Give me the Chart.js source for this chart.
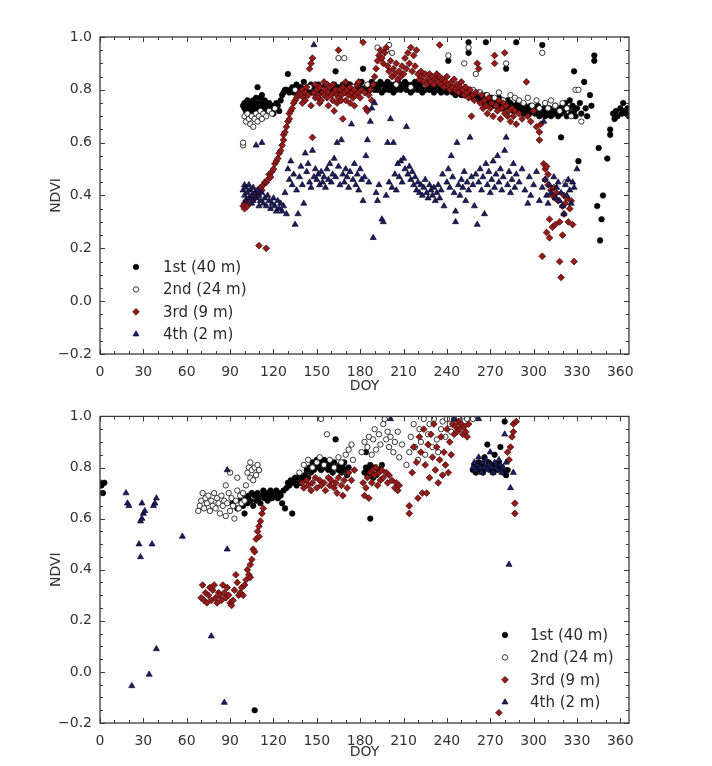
<!DOCTYPE html>
<html><head><meta charset="utf-8">
<script src="https://cdn.jsdelivr.net/npm/chart.js@4.4.1/dist/chart.umd.min.js"></script>
<style>
html,body{margin:0;padding:0;background:#fff;}
#wrap{position:relative;width:712px;height:766px;overflow:hidden;background:#fff;}
canvas{position:absolute;left:0;}
#c1{top:0;} #c2{top:400px;}
</style></head><body>
<div id="wrap"><canvas id="c1" width="712" height="400"></canvas><canvas id="c2" width="712" height="366"></canvas></div>
<script>
// ---------- DATA (DOY, NDVI) ----------
const seriesLabels = ['1st (40 m)', '2nd (24 m)', '3rd (9 m)', '4th (2 m)'];
const xTickValues = [0,30,60,90,120,150,180,210,240,270,300,330,360];
const yTickValues = [-0.2,0.0,0.2,0.4,0.6,0.8,1.0];

const topFirst = [[99,0.74],[100,0.73],[100,0.75],[101,0.72],[101,0.74],[102,0.76],[102,0.73],[103,0.74],[103,0.72],[104,0.75],[104,0.73],[105,0.74],[105,0.71],[106,0.76],[106,0.73],[107,0.75],[107,0.72],[108,0.74],[108,0.77],[109,0.81],[109,0.73],[110,0.75],[110,0.72],[111,0.74],[111,0.77],[112,0.78],[112,0.73],[113,0.75],[113,0.71],[114,0.74],[114,0.76],[115,0.73],[115,0.75],[116,0.72],[116,0.74],[117,0.73],[117,0.75],[118,0.74],[118,0.72],[119,0.73],[120,0.74],[120,0.71],[121,0.73],[122,0.75],[123,0.74],[124,0.72],[125,0.76],[126,0.78],[127,0.79],[128,0.80],[129,0.80],[130,0.86],
[131,0.79],[132,0.80],[133,0.81],[134,0.79],[135,0.80],[136,0.82],[137,0.80],[138,0.79],[139,0.81],[140,0.80],[141,0.83],[142,0.80],[143,0.79],[144,0.81],[145,0.80],[146,0.82],[147,0.79],[148,0.80],[149,0.81],[150,0.80],[151,0.82],[152,0.79],[153,0.80],[154,0.81],[155,0.79],[156,0.80],[157,0.82],[158,0.80],[159,0.81],[160,0.79],[161,0.80],[162,0.82],[163,0.87],[164,0.80],[165,0.81],[166,0.79],[167,0.80],[168,0.82],[169,0.80],[170,0.81],[171,0.79],[172,0.80],[173,0.82],[174,0.80],[175,0.79],[176,0.81],[177,0.80],[178,0.82],[179,0.80],[180,0.81],[181,0.83],[182,0.88],[183,0.80],[184,0.81],[185,0.79],[186,0.82],[187,0.80],[188,0.83],[189,0.81],[190,0.80],
[191,0.82],[192,0.80],[193,0.81],[194,0.83],[195,0.79],[196,0.82],[197,0.80],[198,0.81],[199,0.83],[200,0.80],[201,0.82],[202,0.81],[203,0.79],[204,0.82],[205,0.80],[206,0.83],[207,0.81],[208,0.80],[209,0.82],[210,0.81],[211,0.83],[212,0.80],[213,0.82],[214,0.81],[215,0.79],[216,0.82],[217,0.80],[218,0.83],[219,0.81],[220,0.80],[221,0.82],[222,0.81],[223,0.79],[224,0.82],[225,0.80],[226,0.81],[227,0.83],[228,0.80],[229,0.82],[230,0.81],[231,0.79],[232,0.81],[233,0.80],[234,0.82],[235,0.80],[236,0.79],[237,0.81],[238,0.80],[239,0.82],[240,0.79],[241,0.91],[242,0.80],[243,0.81],[244,0.79],[245,0.80],[246,0.78],[247,0.81],[248,0.79],[249,0.80],[250,0.78],[251,0.79],[252,0.81],[253,0.78],[254,0.80],[255,0.98],[255,0.94],[256,0.78],[257,0.79],[258,0.77],[259,0.79],[260,0.78],
[261,0.77],[262,0.79],[263,0.76],[264,0.78],[265,0.77],[266,0.75],[267,0.98],[267,0.78],[268,0.76],[269,0.77],[270,0.75],[271,0.77],[272,0.76],[273,0.74],[274,0.76],[275,0.75],[276,0.77],[277,0.74],[278,0.76],[279,0.73],[280,0.75],[281,0.88],[281,0.74],[282,0.76],[283,0.73],[284,0.75],[285,0.74],[286,0.72],[287,0.74],[288,0.98],[288,0.73],[289,0.75],[290,0.72],[291,0.74],[292,0.73],[293,0.71],[294,0.74],[295,0.72],[296,0.73],[297,0.71],[298,0.74],[299,0.72],[300,0.73],[301,0.71],[302,0.72],[303,0.74],[304,0.70],[305,0.72],[306,0.97],[306,0.71],[307,0.73],[308,0.70],[309,0.72],[310,0.71],[311,0.73],[312,0.70],[313,0.72],[314,0.71],[315,0.74],[316,0.72],[317,0.70],[318,0.73],[319,0.62],[319,0.71],[320,0.74],[321,0.72],[322,0.75],[323,0.70],[324,0.73],[325,0.76],[326,0.71],[327,0.74],[328,0.87],[328,0.72],[329,0.70],[330,0.73],[331,0.53],[332,0.75],[333,0.71],[335,0.83],[336,0.73],[337,0.70],[339,0.78],[340,0.74],[342,0.93],[342,0.91],[344,0.36],[345,0.58],[346,0.23],[347,0.31],[348,0.40],[351,0.54],[353,0.65],[353,0.63],[355,0.71],[356,0.69],[357,0.72],[358,0.70],[360,0.73],[361,0.71],[362,0.75],[363,0.72],[364,0.71],[365,0.73],[366,0.70]];

const topSecond = [[99,0.59],[99,0.60],[100,0.70],[101,0.68],[102,0.71],[103,0.69],[104,0.67],[105,0.70],[106,0.66],[107,0.69],[108,0.71],[109,0.68],[110,0.70],[111,0.72],[112,0.69],[113,0.71],[115,0.70],[117,0.72],[119,0.71],[121,0.73],
[135,0.80],[145,0.81],[155,0.80],[165,0.92],[169,0.92],[175,0.81],[185,0.82],[192,0.96],[195,0.93],[198,0.95],[200,0.97],[202,0.94],[205,0.82],[215,0.81],[225,0.82],[231,0.84],[236,0.82],[241,0.93],[245,0.81],[250,0.82],[252,0.90],[255,0.96],[258,0.80],[260,0.86],[263,0.79],[268,0.78],[273,0.77],[276,0.79],[279,0.76],[281,0.90],[284,0.78],[287,0.77],[290,0.76],[293,0.75],[296,0.77],[299,0.74],[302,0.76],[304,0.73],[306,0.94],[308,0.75],[310,0.73],[312,0.76],[315,0.74],[318,0.72],[320,0.75],[322,0.45],[323,0.73],[326,0.70],[329,0.80],[331,0.80],[333,0.68]];

const topThird = [[99,0.36],[100,0.37],[100,0.35],[101,0.38],[102,0.36],[103,0.38],[104,0.39],[105,0.38],[106,0.40],[107,0.39],[108,0.41],[109,0.40],[110,0.21],[110,0.42],[111,0.43],[112,0.42],[113,0.44],[114,0.45],[115,0.20],[115,0.45],[116,0.46],[117,0.48],[118,0.47],[119,0.49],[120,0.50],[121,0.52],[122,0.53],[123,0.54],[124,0.56],[125,0.57],[126,0.59],[127,0.61],[127,0.63],[128,0.64],[129,0.66],[130,0.68],[131,0.69],[131,0.71],[132,0.72],[133,0.73],[134,0.75],[135,0.76],[136,0.77],[137,0.78],[138,0.79],
[139,0.78],[140,0.80],[140,0.75],[141,0.77],[142,0.79],[142,0.76],[143,0.81],[144,0.78],[145,0.88],[146,0.90],[146,0.74],[147,0.92],[147,0.62],[148,0.79],[149,0.77],[149,0.82],[150,0.80],[151,0.78],[151,0.77],[152,0.81],[152,0.75],[153,0.76],[154,0.79],[155,0.78],[155,0.83],[156,0.80],[157,0.77],[157,0.82],[158,0.79],[158,0.74],[159,0.81],[160,0.78],[161,0.76],[161,0.82],[162,0.72],[162,0.79],[163,0.80],[164,0.78],[164,0.75],[165,0.95],[165,0.77],[166,0.80],[167,0.78],[167,0.76],[168,0.69],[168,0.81],[169,0.79],[170,0.76],[170,0.83],[171,0.80],[172,0.78],[173,0.81],[173,0.75],[174,0.79],[175,0.77],[176,0.80],[176,0.74],[177,0.78],[178,0.82],[179,0.79],[179,0.83],[180,0.77],[181,0.80],[182,0.98],[183,0.79],[184,0.73],[185,0.72],[186,0.78],[187,0.80],[188,0.76],[189,0.82],[190,0.85],
[191,0.88],[192,0.91],[193,0.93],[194,0.95],[195,0.92],[196,0.90],[197,0.94],[198,0.96],[199,0.89],[200,0.87],[201,0.91],[202,0.85],[203,0.88],[204,0.86],[205,0.90],[206,0.84],[207,0.87],[208,0.85],[209,0.89],[210,0.86],[211,0.92],[212,0.88],[213,0.94],[214,0.90],[215,0.96],[216,0.87],[217,0.93],[218,0.89],[219,0.95],[220,0.86],[221,0.84],[222,0.87],
[223,0.85],[224,0.83],[225,0.86],[226,0.82],[227,0.84],[228,0.86],[229,0.83],[230,0.85],[231,0.82],[232,0.84],[233,0.86],[234,0.83],[235,0.97],[235,0.85],[236,0.82],[237,0.84],[238,0.81],[239,0.83],[240,0.85],[241,0.82],[242,0.80],[243,0.83],[244,0.81],[245,0.84],[246,0.80],[247,0.82],[248,0.79],[249,0.81],[250,0.83],[251,0.80],[252,0.78],[253,0.81],[254,0.79],[255,0.77],[256,0.80],[257,0.70],[258,0.78],[259,0.76],[260,0.79],
[261,0.90],[262,0.88],[263,0.75],[264,0.78],[265,0.73],[266,0.76],[267,0.74],[268,0.71],[269,0.77],[270,0.73],[271,0.75],[272,0.70],[273,0.93],[273,0.90],[274,0.74],[275,0.72],[276,0.76],[277,0.69],[278,0.73],[279,0.75],[280,0.94],[280,0.71],[281,0.74],[282,0.70],[283,0.72],[284,0.68],[285,0.73],[286,0.70],[287,0.72],[288,0.67],[290,0.71],[292,0.69],[295,0.83],[296,0.70],[298,0.68],[300,0.72],[302,0.66],[304,0.64],[304,0.61],[305,0.67],
[306,0.17],[307,0.52],[308,0.50],[308,0.46],[309,0.51],[309,0.26],[310,0.48],[310,0.44],[311,0.31],[311,0.24],[312,0.42],[313,0.40],[313,0.28],[314,0.43],[315,0.29],[315,0.39],[316,0.41],[317,0.38],[318,0.30],[318,0.15],[319,0.09],[320,0.25],[320,0.36],[321,0.40],[321,0.33],[322,0.37],[323,0.39],[324,0.30],[325,0.35],[326,0.38],[327,0.29],[328,0.15]];

const topFourth = [[99,0.42],[100,0.40],[100,0.44],[101,0.38],[101,0.43],[102,0.41],[103,0.39],[103,0.44],[104,0.42],[105,0.37],[105,0.40],[106,0.43],[106,0.38],[107,0.41],[108,0.59],[108,0.39],[109,0.42],[110,0.36],[110,0.40],[111,0.38],[112,0.60],[112,0.41],[113,0.37],[114,0.39],[115,0.36],[116,0.40],[117,0.38],[118,0.35],[119,0.37],[120,0.39],[121,0.36],[122,0.34],[123,0.38],[124,0.35],[125,0.37],[126,0.34],[127,0.36],[128,0.41],[129,0.33],[130,0.50],[131,0.46],[132,0.53],[133,0.44],[134,0.48],[135,0.29],[136,0.42],[137,0.33],[138,0.47],[139,0.51],[140,0.44],[141,0.37],[142,0.56],[143,0.49],[144,0.52],[145,0.45],[146,0.43],[147,0.57],[148,0.97],[148,0.47],[149,0.50],[150,0.46],[151,0.48],[152,0.44],[153,0.49],[154,0.45],[155,0.47],[156,0.43],[157,0.50],[158,0.46],[159,0.52],[160,0.45],[161,0.48],[162,0.54],[163,0.47],[164,0.60],[165,0.51],[166,0.44],[167,0.61],[168,0.48],[169,0.45],[170,0.50],[171,0.47],[172,0.43],[173,0.49],[174,0.67],[175,0.46],[176,0.52],[177,0.44],[178,0.48],[179,0.42],[180,0.50],[181,0.46],[182,0.38],[183,0.47],[184,0.55],[185,0.61],[186,0.45],[187,0.68],[188,0.73],[189,0.24],[190,0.75],[191,0.41],[192,0.38],[193,0.44],[195,0.31],[196,0.30],[198,0.40],[199,0.60],[200,0.45],[201,0.69],[202,0.43],[203,0.60],[204,0.48],[205,0.42],[206,0.52],[207,0.47],[208,0.53],[209,0.45],[210,0.54],[211,0.50],[212,0.66],[213,0.48],[214,0.51],[215,0.46],[216,0.49],[217,0.44],[218,0.47],[219,0.42],[220,0.45],[221,0.41],[222,0.44],[223,0.40],[224,0.43],[225,0.46],[226,0.41],[227,0.39],[228,0.44],[229,0.42],[230,0.40],[231,0.43],[232,0.38],[233,0.41],[234,0.44],[235,0.39],[236,0.42],[237,0.48],[238,0.36],[240,0.45],[241,0.50],[242,0.43],[243,0.55],[244,0.47],[245,0.41],[246,0.34],[246,0.30],[247,0.60],[248,0.44],[249,0.40],[250,0.46],[251,0.43],[252,0.49],[253,0.38],[254,0.45],[255,0.42],[256,0.62],[257,0.47],[258,0.44],[259,0.36],[260,0.48],[261,0.29],[262,0.45],[263,0.50],[264,0.42],[265,0.47],[266,0.33],[267,0.52],[268,0.44],[269,0.49],[270,0.41],[271,0.46],[272,0.53],[273,0.43],[274,0.48],[275,0.55],[276,0.45],[277,0.50],[278,0.42],[279,0.47],[280,0.57],[281,0.62],[282,0.44],[283,0.49],[284,0.41],[285,0.46],[286,0.52],[287,0.43],[288,0.48],[290,0.45],[292,0.50],[294,0.42],[296,0.37],[297,0.47],[298,0.40],[300,0.44],[302,0.49],[304,0.38],[306,0.43],[307,0.68],[308,0.46],[309,0.40],[310,0.37],[311,0.44],[312,0.41],[314,0.47],[315,0.39],[316,0.43],[317,0.45],[318,0.38],[319,0.41],[320,0.36],[321,0.33],[322,0.44],[323,0.40],[324,0.46],[325,0.42],[326,0.37],[327,0.45],[328,0.43],[330,0.50]];

const botFirst = [[1,0.74],[1,0.73],[2,0.70],[3,0.74],
[92,0.66],[95,0.64],[97,0.67],[99,0.65],[100,0.62],[101,0.68],[102,0.66],[103,0.69],[104,0.67],[105,0.70],[106,0.65],[107,0.69],[107,-0.15],[108,0.67],[109,0.70],[110,0.68],[111,0.66],[112,0.69],[113,0.71],[114,0.68],[115,0.70],[116,0.67],[117,0.69],[118,0.71],[119,0.68],[120,0.70],[121,0.69],[122,0.71],[123,0.68],[124,0.70],[125,0.69],[126,0.66],[127,0.71],[128,0.64],[129,0.72],[130,0.74],[131,0.73],[132,0.75],[133,0.62],[134,0.74],[135,0.76],[136,0.73],[137,0.75],[138,0.77],[139,0.74],[140,0.76],[141,0.75],[142,0.77],[143,0.79],[144,0.76],[145,0.80],[146,0.78],[147,0.82],[148,0.79],[149,0.81],[150,0.83],[151,0.80],[152,0.82],[153,0.79],[154,0.81],[155,0.83],[156,0.80],[157,0.82],[158,0.79],[159,0.81],[160,0.80],[161,0.78],[162,0.82],[163,0.91],[164,0.80],[165,0.79],[166,0.81],[167,0.78],[168,0.80],[169,0.82],[170,0.79],[171,0.77],[172,0.80],
[183,0.78],[184,0.80],[184,0.86],[185,0.77],[186,0.79],[187,0.60],[187,0.81],[188,0.78],[189,0.76],[190,0.80],[191,0.77],[193,0.79],[195,0.81],
[258,0.79],[259,0.81],[260,0.78],[261,0.80],[262,0.82],[263,0.79],[264,0.81],[265,0.78],[266,0.84],[267,0.80],[268,0.89],[269,0.82],[270,0.79],[271,0.81],[272,0.78],[273,0.85],[274,0.80],[275,0.79],[276,0.82],[277,0.88],[278,0.80],[279,0.78],[280,0.98],[281,0.77],[282,0.79]];

const botSecond = [[68,0.63],[69,0.65],[70,0.67],[71,0.70],[72,0.64],[73,0.68],[74,0.66],[75,0.69],[76,0.63],[77,0.67],[78,0.65],[79,0.70],[80,0.64],[81,0.68],[82,0.66],[83,0.62],[84,0.69],[85,0.65],[86,0.67],[87,0.61],[87,0.73],[88,0.66],[89,0.70],[90,0.63],[90,0.78],[91,0.68],[92,0.65],[93,0.60],[94,0.67],[95,0.71],[95,0.76],[96,0.64],[97,0.69],[98,0.66],[99,0.70],[100,0.67],[101,0.73],[102,0.78],[103,0.80],[104,0.82],[104,0.76],[105,0.79],[106,0.75],[107,0.80],[108,0.77],[109,0.81],[110,0.79],
[138,0.78],[141,0.81],[144,0.83],[147,0.80],[150,0.82],[152,0.84],[153,0.99],[155,0.81],[157,0.93],[159,0.83],[162,0.80],[165,0.84],[167,0.82],[170,0.85],[172,0.87],[174,0.89],[175,0.83],
[181,0.86],[183,0.90],[185,0.88],[186,0.92],[188,0.85],[189,0.91],[190,0.95],[191,0.87],[193,0.93],[194,0.89],[196,0.97],[197,0.99],[198,0.91],[199,0.94],[200,0.88],[201,0.92],[203,0.86],[204,0.90],[206,0.94],[207,0.84],[209,0.89],
[212,0.81],[214,0.86],[215,0.92],[217,0.97],[218,0.88],[220,0.83],[221,0.95],[222,0.90],[224,0.99],[225,0.85],[227,0.93],[228,0.97],[230,0.88],[231,0.99],[233,0.91],[234,0.86],[236,0.95],[237,0.98],[239,0.92],[240,0.99],[242,0.97],[243,0.94],[245,0.99],[247,0.96],[249,0.98],[251,1.0],[254,0.99],[258,0.99]];

const botThird = [[70,0.29],[71,0.34],[72,0.28],[73,0.31],[74,0.27],[75,0.30],[76,0.33],[77,0.28],[78,0.32],[79,0.34],[80,0.29],[81,0.27],[82,0.31],[83,0.30],[84,0.28],[85,0.34],[86,0.31],[87,0.29],[88,0.33],[89,0.30],[90,0.27],[91,0.26],[92,0.28],[93,0.32],[94,0.38],[95,0.35],[96,0.30],[97,0.31],[98,0.33],[99,0.30],[100,0.34],[101,0.36],[102,0.40],[103,0.38],[104,0.42],[104,0.37],[105,0.44],[106,0.48],[107,0.47],[108,0.52],[109,0.55],[110,0.53],[110,0.57],[111,0.59],[112,0.62],[113,0.64],
[140,0.74],[141,0.72],[143,0.75],[144,0.73],[146,0.71],[147,0.74],[149,0.76],[150,0.72],[152,0.75],[153,0.73],[155,0.74],[156,0.71],[158,0.76],[159,0.73],[160,0.75],[162,0.72],[163,0.74],[164,0.70],[165,0.76],[167,0.73],[168,0.69],[169,0.75],[171,0.72],[172,0.78],[174,0.75],[176,0.79],
[182,0.74],[183,0.69],[184,0.72],[185,0.76],[186,0.68],[187,0.78],[188,0.74],[189,0.79],[190,0.77],[191,0.80],[192,0.73],[193,0.78],[194,0.75],[195,0.79],[196,0.76],[198,0.78],[199,0.74],[200,0.77],[202,0.75],[204,0.72],[205,0.74],[206,0.71],[207,0.73],
[214,0.62],[214,0.65],[216,0.78],[217,0.88],[219,0.82],[220,0.68],[221,0.92],[222,0.86],[223,0.70],[224,0.95],[225,0.81],[226,0.70],[227,0.89],[228,0.76],[229,0.93],[230,0.84],[231,0.97],[232,0.79],[233,0.88],[234,0.74],[235,0.83],[236,0.92],[237,0.77],[238,0.86],[239,0.81],[240,0.95],[241,0.78],[242,0.90],[243,0.85],[244,0.97],[245,0.93],[246,0.96],[247,0.94],[248,0.98],[249,0.95],[250,0.97],[251,0.93],[252,0.96],[253,0.94],[254,0.92],[255,0.97],
[276,-0.16],[282,0.86],[283,0.83],[284,0.88],[285,0.92],[286,0.94],[286,0.97],[287,0.62],[287,0.66],[288,0.98]];

const botFourth = [[18,0.70],[19,0.66],[20,0.65],[22,-0.055],[27,0.50],[28,0.45],[28,0.59],[29,0.60],[29,0.66],[30,0.62],[31,0.63],[34,-0.01],[36,0.50],[37,0.65],[38,0.66],[39,0.68],[39,0.09],[57,0.53],[77,0.14],[86,-0.12],[88,0.79],[88,0.48],[201,0.99],[245,0.99],
[258,0.80],[259,0.82],[260,0.79],[261,0.81],[262,0.84],[262,0.99],[263,0.80],[264,0.78],[265,0.82],[266,0.80],[267,0.83],[268,0.79],[269,0.81],[270,0.86],[271,0.80],[272,0.78],[273,0.82],[274,0.80],[275,0.79],[276,0.83],[277,0.81],[278,0.78],[279,0.80],[280,0.93],[281,0.82],[283,0.42],[284,0.72],[286,0.78]];

// ---------- STYLE ----------
const FONT = '"DejaVu Sans", Verdana, sans-serif';
const markerStyles = [
  {pointStyle:'circle',   radius:2.8, backgroundColor:'#000000', borderColor:'#000000', borderWidth:0.6},
  {pointStyle:'circle',   radius:2.7, backgroundColor:'#ffffff', borderColor:'#222222', borderWidth:0.9},
  {pointStyle:'rectRot',  radius:3.4, backgroundColor:'#951b1b', borderColor:'#3a0606', borderWidth:0.7},
  {pointStyle:'triangle', radius:3.5, backgroundColor:'#1c1c62', borderColor:'#0a0a1e', borderWidth:0.7}
];

function makeDatasets(lists){
  return lists.map((pts,i)=>({
    label: seriesLabels[i],
    data: pts.map(p=>({x:p[0], y:p[1]})),
    pointStyle: markerStyles[i].pointStyle,
    pointRadius: markerStyles[i].radius,
    pointBackgroundColor: markerStyles[i].backgroundColor,
    pointBorderColor: markerStyles[i].borderColor,
    pointBorderWidth: markerStyles[i].borderWidth,
    pointHoverRadius: markerStyles[i].radius,
    showLine: false,
    order: 4 - i
  }));
}

const frameTicks = {
  id: 'frameTicks',
  afterDatasetsDraw(chart){
    const {ctx, chartArea:a, scales:{x, y}} = chart;
    ctx.save();
    ctx.strokeStyle = '#3a3a3a';
    ctx.lineWidth = 1;
    ctx.beginPath();
    for (let v = 0; v <= 360; v += 10){
      const px = Math.round(x.getPixelForValue(v)) + 0.5;
      const len = (v % 30 === 0) ? 5 : 3;
      ctx.moveTo(px, a.bottom); ctx.lineTo(px, a.bottom - len);
      ctx.moveTo(px, a.top); ctx.lineTo(px, a.top + len);
    }
    for (let k = -4; k <= 20; k++){
      const v = k * 0.05;
      const py = Math.round(y.getPixelForValue(v)) + 0.5;
      const len = (k % 4 === 0) ? 5 : 3;
      ctx.moveTo(a.left, py); ctx.lineTo(a.left + len, py);
      ctx.moveTo(a.right, py); ctx.lineTo(a.right - len, py);
    }
    ctx.stroke();
    ctx.lineWidth = 1.3;
    ctx.strokeRect(a.left, a.top, a.right - a.left, a.bottom - a.top);
    ctx.restore();
  }
};

const insideLegend = {
  id: 'insideLegend',
  afterDraw(chart, args, opts){
    const ctx = chart.ctx;
    ctx.save();
    ctx.font = '15px ' + FONT;
    ctx.textBaseline = 'middle';
    ctx.textAlign = 'left';
    chart.data.datasets.forEach((ds,i)=>{
      const yy = opts.y + i * opts.dy;
      const st = markerStyles[i];
      ctx.fillStyle = st.backgroundColor;
      ctx.strokeStyle = st.borderColor;
      ctx.lineWidth = st.borderWidth;
      Chart.helpers.drawPoint(ctx, {pointStyle: st.pointStyle, radius: st.radius, rotation: 0, borderWidth: st.borderWidth}, opts.mx, yy);
      ctx.fillStyle = '#2a2a2a';
      ctx.fillText(ds.label, opts.tx, yy + 1);
    });
    ctx.restore();
  }
};

function fmtY(v){
  if (Math.abs(v) < 1e-9) return '0.0';
  const s = v.toFixed(1);
  return v < 0 ? '\u2212' + s.slice(1) : s;
}

function makeChart(id, lists, padTop, xAxisH, legendOpts){
  return new Chart(document.getElementById(id), {
    type: 'scatter',
    data: { datasets: makeDatasets(lists) },
    options: {
      responsive: false,
      animation: false,
      events: [],
      layout: { padding: { left: 0, right: 83, top: padTop, bottom: 0 } },
      plugins: {
        legend: { display: false },
        tooltip: { enabled: false },
        insideLegend: legendOpts
      },
      scales: {
        x: {
          type: 'linear', min: 0, max: 366,
          afterBuildTicks: s => { s.ticks = xTickValues.map(v => ({value: v})); },
          afterFit: s => { s.height = xAxisH; },
          grid: { display: false, drawTicks: false },
          border: { display: false },
          ticks: { autoSkip: false, maxRotation: 0, padding: 10, color: '#333', font: { family: FONT, size: 14 }, callback: v => String(v) },
          title: { display: true, text: 'DOY', color: '#333', font: { family: FONT, size: 14 }, padding: { top: 0, bottom: 5 } }
        },
        y: {
          type: 'linear', min: -0.2, max: 1.0,
          afterBuildTicks: s => { s.ticks = yTickValues.map(v => ({value: v})); },
          afterFit: s => { s.width = 100; },
          grid: { display: false, drawTicks: false },
          border: { display: false },
          ticks: { padding: 8, color: '#333', font: { family: FONT, size: 14 }, callback: v => fmtY(v) },
          title: { display: true, text: 'NDVI', color: '#333', font: { family: FONT, size: 14 }, padding: { top: 48, bottom: 0 } }
        }
      }
    },
    plugins: [frameTicks, insideLegend]
  });
}

makeChart('c1', [topFirst, topSecond, topThird, topFourth], 37, 46, { mx: 136, tx: 163, y: 267, dy: 22.4 });
makeChart('c2', [botFirst, botSecond, botThird, botFourth], 5, 43, { mx: 505, tx: 530, y: 235, dy: 22.4 });
</script>
</body></html>
